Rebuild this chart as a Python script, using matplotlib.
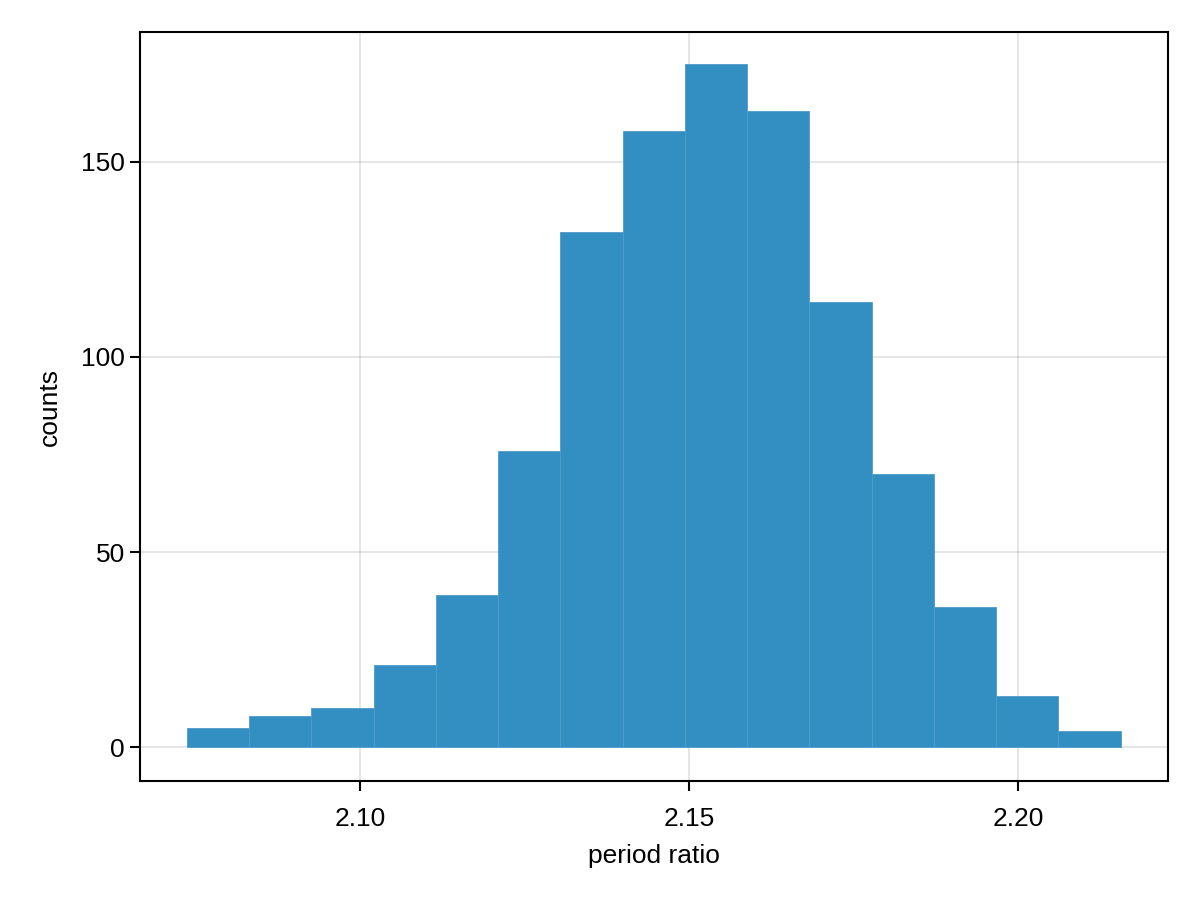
import numpy as np
import matplotlib
matplotlib.use("Agg")
import matplotlib.pyplot as plt

plt.rcParams['font.family'] = ['Liberation Sans', 'DejaVu Sans']

# histogram of period ratio
bin_start = 2.0737
bin_width = 0.00946
counts = [5, 8, 10, 21, 39, 76, 132, 158, 175, 163, 114, 70, 36, 13, 4]
xticks = [2.10, 2.15, 2.20]
xtick_labels = ["2.10", "2.15", "2.20"]
yticks = [0, 50, 100, 150]

edges = bin_start + bin_width * np.arange(len(counts) + 1)

fig = plt.figure(figsize=(12, 9), dpi=100)
ax = fig.add_axes([140 / 1200, 1 - 781 / 900, 1028 / 1200, 749 / 900])

ax.bar(edges[:-1], counts, width=bin_width, align='edge',
       facecolor='#338EC1', edgecolor='#4E9CCA', linewidth=0.6, zorder=2)

ax.set_xlim(2.06657, 2.2228)
ax.set_ylim(-8.7, 183.3)
ax.set_xticks(xticks, xtick_labels)
ax.set_yticks(yticks)
ax.grid(True, color='black', alpha=0.1, linewidth=1.4, zorder=0)
ax.set_axisbelow(True)

for s in ax.spines.values():
    s.set_linewidth(1.5)
ax.tick_params(direction='out', length=7, width=1.5, labelsize=19)
ax.tick_params(axis='x', pad=12)
ax.tick_params(axis='y', pad=4)

ax.set_xlabel("period ratio", fontsize=19, labelpad=9)
ax.set_ylabel("counts", fontsize=19, labelpad=14)

fig.savefig("out.png", dpi=100)
